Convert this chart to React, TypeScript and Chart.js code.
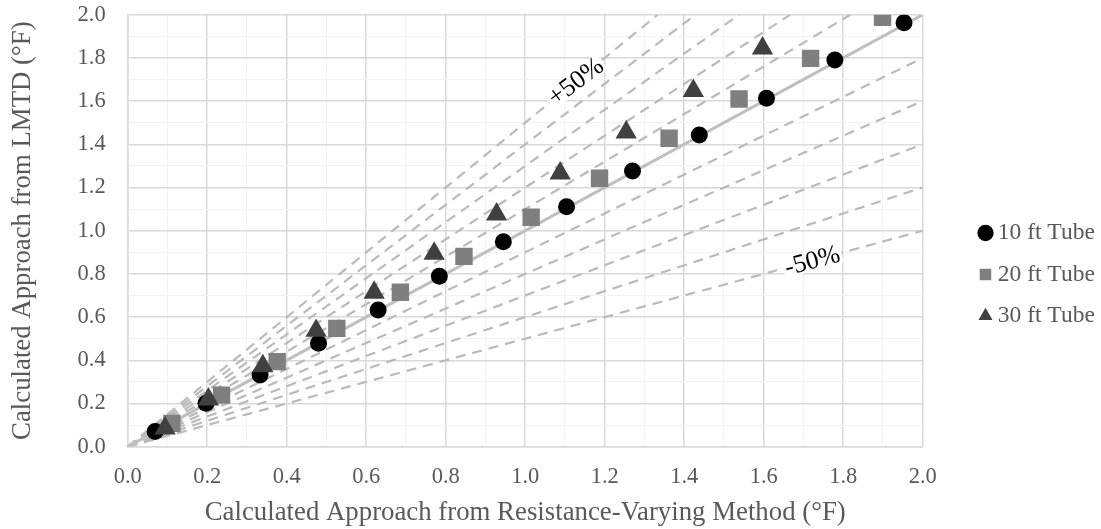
import React, { useEffect, useRef } from 'react';
import { Chart, registerables } from 'chart.js';

Chart.register(...registerables);

const FONT = "'Liberation Serif', 'Times New Roman', serif";

// ---- data ----
const seriesNames = ['10 ft Tube', '20 ft Tube', '30 ft Tube'];

const tube10X = [0.069, 0.197, 0.333, 0.480, 0.630, 0.784, 0.945, 1.104, 1.270, 1.438, 1.607, 1.779, 1.953];
const tube10Y = [0.070, 0.201, 0.332, 0.479, 0.633, 0.789, 0.949, 1.111, 1.276, 1.443, 1.613, 1.790, 1.963];

const tube20X = [0.111, 0.236, 0.376, 0.526, 0.686, 0.846, 1.015, 1.187, 1.362, 1.538, 1.718, 1.899];
const tube20Y = [0.108, 0.239, 0.394, 0.548, 0.715, 0.881, 1.062, 1.243, 1.428, 1.610, 1.798, 1.988];

const tube30X = [0.094, 0.203, 0.340, 0.474, 0.620, 0.771, 0.928, 1.088, 1.254, 1.423, 1.597];
const tube30Y = [0.085, 0.219, 0.373, 0.537, 0.714, 0.894, 1.076, 1.266, 1.455, 1.648, 1.844];

// reference lines y = k * x (dashed, 10% steps) and parity line
const guideRatios = [0.5, 0.6, 0.7, 0.8, 0.9, 1.1, 1.2, 1.3, 1.4, 1.5];
const parityRatio = 1.0;

const axisMin = 0;
const axisMax = 2.0;
const axisStep = 0.1;
const tickLabels = ['0.0', '0.2', '0.4', '0.6', '0.8', '1.0', '1.2', '1.4', '1.6', '1.8', '2.0'];

const xTitle = 'Calculated Approach from Resistance-Varying Method (°F)';
const yTitle = 'Calculated Approach from LMTD (°F)';

const bandLabelText = ['+50%', '-50%'];
const bandLabelRatio = [1.5, 0.5];
const bandLabelX = [1.127, 1.722];
const bandLabelAngle = [-37, -15];

// ---- helpers ----
const pts = (xs: number[], ys: number[]) => xs.map((x, i) => ({ x, y: ys[i] }));
const rayPoints = (k: number) => [
  { x: 0, y: 0 },
  k <= 1 ? { x: axisMax, y: axisMax * k } : { x: axisMax / k, y: axisMax },
];
const isMajor = (v: number) => Math.round(v * 10) % 2 === 0;

const LEGEND_FONT = 23.5;
const LEGEND_WIDTH = 178.3;
const LEGEND_ITEM_X = 985;
const LEGEND_FIRST_ROW_TOP = 233 - LEGEND_FONT / 2;
const LEGEND_PADDING = 41.5 - LEGEND_FONT;

const layoutPlugin = {
  id: 'layoutTweaks',
  afterInit(chart: any) {
    const lg = chart.legend;
    if (lg && !lg.__patched) {
      const orig = lg.fit.bind(lg);
      lg.fit = () => {
        orig();
        lg.width = LEGEND_WIDTH;
      };
      lg.__patched = true;
    }
  },
  afterLayout(chart: any) {
    const lg = chart.legend;
    if (!lg) return;
    lg.left = LEGEND_ITEM_X - LEGEND_PADDING;
    lg.right = chart.width;
    lg.top = LEGEND_FIRST_ROW_TOP - LEGEND_PADDING;
    lg.bottom = chart.height;
    lg.width = lg.right - lg.left;
    lg.height = lg.bottom - lg.top;
  },
};

const bandLabelPlugin = {
  id: 'bandLabels',
  afterDatasetsDraw(chart: any) {
    const { ctx, scales } = chart;
    const xs = scales.x;
    const ys = scales.y;
    ctx.save();
    ctx.font = `26px ${FONT}`;
    ctx.textAlign = 'center';
    ctx.textBaseline = 'middle';
    bandLabelText.forEach((t, i) => {
      const dx = bandLabelX[i];
      const px = xs.getPixelForValue(dx);
      const py = ys.getPixelForValue(dx * bandLabelRatio[i]);
      const w = ctx.measureText(t).width;
      ctx.save();
      ctx.translate(px, py);
      ctx.rotate((bandLabelAngle[i] * Math.PI) / 180);
      ctx.fillStyle = '#FFFFFF';
      ctx.fillRect(-w / 2 - 2, -10, w + 4, 20);
      ctx.fillStyle = '#000000';
      ctx.fillText(t, 0, 1);
      ctx.restore();
    });
    ctx.restore();
  },
};

export default function App() {
  const ref = useRef<HTMLCanvasElement>(null);

  useEffect(() => {
    if (!ref.current) return;

    const pointBase = { showLine: false, borderWidth: 0, pointBorderWidth: 0 };
    const datasets: any[] = [
      {
        ...pointBase,
        label: seriesNames[0],
        data: pts(tube10X, tube10Y),
        pointStyle: 'circle',
        pointRadius: 8.5,
        backgroundColor: '#000000',
        borderColor: '#000000',
        order: 2,
      },
      {
        ...pointBase,
        label: seriesNames[1],
        data: pts(tube20X, tube20Y),
        pointStyle: 'rect',
        pointRadius: 12.3,
        backgroundColor: '#7F7F7F',
        borderColor: '#7F7F7F',
        order: 1,
      },
      {
        ...pointBase,
        label: seriesNames[2],
        data: pts(tube30X, tube30Y),
        pointStyle: 'triangle',
        pointRadius: 12.3,
        backgroundColor: '#404040',
        borderColor: '#404040',
        order: 0,
      },
      {
        label: 'parity',
        data: rayPoints(parityRatio),
        showLine: true,
        borderColor: '#BFBFBF',
        backgroundColor: '#BFBFBF',
        borderWidth: 3,
        pointRadius: 0,
        order: 3,
      },
      ...guideRatios.map((k) => ({
        label: `guide ${k}`,
        data: rayPoints(k),
        showLine: true,
        borderColor: '#BABABA',
        backgroundColor: '#BABABA',
        borderWidth: 2.2,
        borderDash: [10, 7],
        pointRadius: 0,
        order: 4,
      })),
    ];

    const axisCommon = (tickLength: number) => ({
      type: 'linear' as const,
      min: axisMin,
      max: axisMax,
      ticks: {
        stepSize: axisStep,
        autoSkip: false,
        maxRotation: 0,
        padding: 0,
        color: '#595959',
        font: { family: FONT, size: 22.5 },
        callback: (v: any) => (isMajor(Number(v)) ? tickLabels[Math.round(Number(v) * 5)] : ''),
      },
      grid: {
        drawTicks: true,
        tickLength,
        tickColor: 'rgba(0,0,0,0)',
        color: (c: any) => (c.tick && isMajor(c.tick.value) ? '#D9D9D9' : '#F2F2F2'),
        lineWidth: (c: any) => (c.tick && isMajor(c.tick.value) ? 1.5 : 1),
      },
      border: { color: '#D9D9D9', width: 1.5 },
    });

    const chart = new Chart(ref.current, {
      type: 'scatter',
      data: { datasets },
      options: {
        animation: false,
        responsive: false,
        devicePixelRatio: 1,
        events: [],
        layout: { padding: { top: 14.7, left: 0, right: 0, bottom: 0 } },
        plugins: {
          tooltip: { enabled: false },
          legend: {
            position: 'right',
            align: 'start',
            labels: {
              usePointStyle: true,
              boxWidth: 1,
              boxHeight: 11.5,
              padding: LEGEND_PADDING,
              color: '#595959',
              font: { family: FONT, size: LEGEND_FONT },
              filter: (item: any) => item.datasetIndex < 3,
              sort: (a: any, b: any) => a.datasetIndex - b.datasetIndex,
            },
          },
        },
        scales: {
          x: {
            ...axisCommon(17.3),
            position: 'bottom',
            title: {
              display: true,
              text: xTitle,
              color: '#595959',
              font: { family: FONT, size: 26.8 },
              padding: { top: 0, bottom: 0 },
            },
            afterFit: (s: any) => {
              s.height = 82.3;
            },
          } as any,
          y: {
            ...axisCommon(22),
            position: 'left',
            title: {
              display: true,
              text: yTitle,
              color: '#595959',
              font: { family: FONT, size: 26.8 },
              padding: { top: 6.4, bottom: 0 },
            },
            afterFit: (s: any) => {
              s.width = 127.7;
            },
          } as any,
        },
      },
      plugins: [layoutPlugin, bandLabelPlugin],
    });

    return () => chart.destroy();
  }, []);

  return (
    <div style={{ position: 'fixed', left: 0, top: 0, width: 1101, height: 529, background: '#FFFFFF' }}>
      <canvas ref={ref} width={1101} height={529} style={{ display: 'block', width: 1101, height: 529 }} />
    </div>
  );
}
